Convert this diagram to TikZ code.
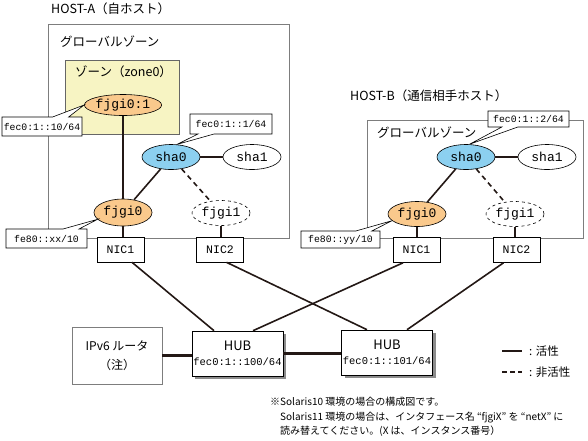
\documentclass[tikz,border=0pt]{standalone}
\usepackage{fontspec}
\setmainfont{Noto Sans CJK JP}
\newfontfamily\addrfont{Liberation Mono}
\usetikzlibrary{arrows.meta,positioning,shapes.callouts,shapes.geometric,shadows}
\definecolor{nwyellow}{RGB}{247,244,195}
\definecolor{nworange}{RGB}{250,201,140}
\definecolor{nwblue}{RGB}{140,208,240}
\definecolor{nwgray}{RGB}{125,125,125}
\definecolor{nwline}{RGB}{35,24,21}

\begin{document}
\begin{tikzpicture}[x=1pt, y=-1pt,
  hostbox/.style={draw=nwgray, line width=1pt},
  iface/.style={ellipse, draw=black, fill=white, line width=0.6pt, minimum width=58pt,
    minimum height=25pt, inner sep=0pt, font=\addrfont\fontsize{13}{14}\selectfont},
  nicbox/.style={draw, fill=white, line width=0.6pt, minimum width=47pt, minimum height=25pt,
    inner sep=0pt, font=\addrfont\fontsize{11.5}{12}\selectfont},
  addr/.style={rectangle callout, draw, fill=white, line width=0.6pt, inner sep=0pt,
    callout pointer width=16pt, font=\addrfont\fontsize{9.8}{11}\selectfont},
  hubbox/.style={draw, fill=white, line width=0.6pt, minimum width=91pt, minimum height=45pt,
    inner sep=0pt, align=center, font=\fontsize{13}{14}\selectfont,
    drop shadow={shadow xshift=3pt, shadow yshift=-3pt, fill=black!45, opacity=1}},
  link/.style={nwline, line width=1.6pt},
  idle/.style={link, dash pattern=on 5pt off 4pt},
  trunk/.style={nwline, line width=3.5pt},
  caption/.style={anchor=west, inner sep=0pt, font=\fontsize{12.5}{14}\selectfont}]
\useasboundingbox (0,0) rectangle (588,440);
% HOST-A
\node[caption] (titleA) at (51,9) {HOST-A（自ホスト）};
\draw[hostbox] (48,24) rectangle (289,238);
\node[caption] (globalA) at (60,42) {グローバルゾーン};
\draw[draw=black!60, line width=0.8pt, fill=nwyellow] (65,60) rectangle (179,134);
\node[caption] (zoneA) at (75,72) {ゾーン（zone0）};
\node[iface, fill=nworange, minimum height=21pt] (fjgiA01) at (123,105) {fjgi0:1};
\node[iface, fill=nwblue] (shaA0) at (171,157) {sha0};
\node[iface] (shaA1) at (252,157) {sha1};
\node[iface, fill=nworange, minimum height=27pt] (fjgiA0) at (123,212.5) {fjgi0};
\node[iface, dashed] (fjgiA1) at (221,213) {fjgi1};
\node[nicbox] (nicA1) at (120.5,249.5) {NIC1};
\node[nicbox] (nicA2) at (220,249.5) {NIC2};
\draw[link] (fjgiA01.south) -- (fjgiA0.north);
\draw[link] (shaA0) -- (fjgiA0);
\draw[idle] (shaA0) -- (fjgiA1);
\draw[link] (shaA0) -- (shaA1);
\draw[link] (fjgiA0.south) -- (fjgiA0.south |- nicA1.north);
\draw[link] (fjgiA1.south) -- (fjgiA1.south |- nicA2.north);
\node[addr, minimum width=80pt, minimum height=19pt, callout absolute pointer={(fjgiA01.west)}]
  (ipA01) at (42,126.5) {fec0:1::10/64};
\node[addr, minimum width=82pt, minimum height=20pt, callout absolute pointer={(shaA0.65)}]
  (ipA0) at (231,124) {fec0:1::1/64};
\node[addr, minimum width=81pt, minimum height=19pt, callout absolute pointer={(fjgiA0.195)}]
  (llA0) at (46.5,238.5) {fe80::xx/10};
% HOST-B
\node[caption] (titleB) at (350,96) {HOST-B（通信相手ホスト）};
\draw[hostbox] (367,120) rectangle (583,238);
\node[caption] (globalB) at (377,133) {グローバルゾーン};
\node[iface, fill=nwblue] (shaB0) at (466,157) {sha0};
\node[iface] (shaB1) at (547,157) {sha1};
\node[iface, fill=nworange] (fjgiB0) at (417,214) {fjgi0};
\node[iface, dashed] (fjgiB1) at (515,214) {fjgi1};
\node[nicbox] (nicB1) at (416.5,250) {NIC1};
\node[nicbox] (nicB2) at (516.5,250) {NIC2};
\draw[link] (shaB0) -- (fjgiB0);
\draw[idle] (shaB0) -- (fjgiB1);
\draw[link] (shaB0) -- (shaB1);
\draw[link] (fjgiB0.south) -- (fjgiB0.south |- nicB1.north);
\draw[link] (fjgiB1.south) -- (fjgiB1.south |- nicB2.north);
\node[addr, minimum width=81pt, minimum height=16pt, callout absolute pointer={(shaB0.75)}]
  (ipB0) at (528.5,119) {fec0:1::2/64};
\node[addr, minimum width=79pt, minimum height=17pt, callout absolute pointer={(fjgiB0.195)}]
  (llB0) at (340.5,239.5) {fe80::yy/10};
% Router and hubs
\node[draw=nwgray, line width=0.8pt, minimum width=90pt, minimum height=57pt, align=center,
  font=\fontsize{12}{13}\selectfont] (router) at (117,355.5) {IPv6 ルータ\\[6pt]（注）};
\node[hubbox] (hubA) at (237.5,353.5) {HUB\\[1pt]{\addrfont\fontsize{10.5}{12}\selectfont fec0:1::100/64}};
\node[hubbox] (hubB) at (387,352.5) {HUB\\[1pt]{\addrfont\fontsize{10.5}{12}\selectfont fec0:1::101/64}};
\draw[trunk] (router.east) -- (router.east -| hubA.west);
\draw[trunk] (hubA.east) -- (hubA.east -| hubB.west);
\draw[link] ([xshift=11.5pt]nicA1.south) -- ([xshift=-23.5pt]hubA.north);
\draw[link] ([xshift=6.5pt]nicA2.south) -- ([xshift=-20pt]hubB.north);
\draw[link] ([xshift=-13.5pt]nicB1.south) -- ([xshift=15.5pt]hubA.north);
\draw[link] ([xshift=-13pt]nicB2.south) -- ([xshift=20pt]hubB.north);
% Legend
\coordinate (legA) at (502,351);
\coordinate (legB) at (502,372);
\draw[link] (legA) -- ++(20,0);
\draw[link, dash pattern=on 4.5pt off 3.5pt] (legB) -- ++(20,0);
\node[caption, font=\fontsize{11.5}{13}\selectfont] (legAtext) at (529,351) {: 活性};
\node[caption, font=\fontsize{11.5}{13}\selectfont] (legBtext) at (529,372) {: 非活性};
% Note
\node[anchor=north west, inner sep=0pt, align=left, font=\fontsize{10}{14.5}\selectfont] (note) at (270,397)
  {※Solaris10 環境の場合の構成図です。\\
   \phantom{※}Solaris11 環境の場合は、インタフェース名 “fjgiX” を “netX” に\\
   \phantom{※}読み替えてください。(X は、インスタンス番号）};
\end{tikzpicture}
\end{document}
